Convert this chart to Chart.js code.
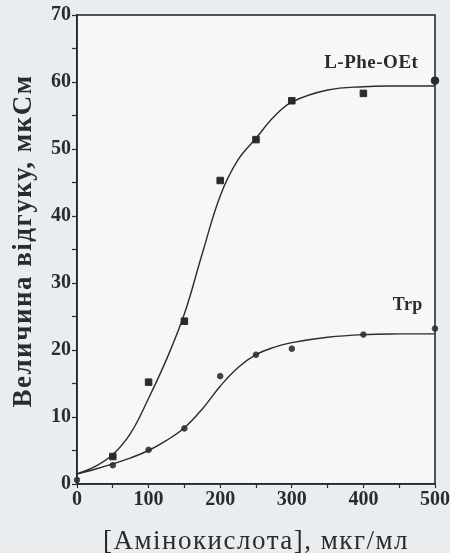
<!DOCTYPE html>
<html lang="uk">
<head>
  <meta charset="UTF-8">
  <title>Величина відгуку</title>
  <script src="https://cdn.jsdelivr.net/npm/chart.js"></script>
  <style>
    html, body { margin: 0; padding: 0; background: #e9edf0; }
    #wrap { width: 450px; height: 553px; }
  </style>
</head>
<body>
  <div id="wrap"><canvas id="chart" width="450" height="553"></canvas></div>

  <script>
    // fitted curves
    const curveX = [0, 25, 50, 75, 100, 125, 150, 175, 200, 225, 250, 275, 300, 350, 400, 450, 500];
    const pheCurve = [1.5, 2.6, 4.4, 7.6, 12.8, 18.6, 25.4, 34.4, 43.0, 48.4, 51.6, 54.8, 57.0, 58.8, 59.3, 59.4, 59.4];
    const trpCurve = [1.5, 2.2, 3.0, 3.9, 5.0, 6.5, 8.4, 11.2, 14.6, 17.4, 19.3, 20.4, 21.1, 21.9, 22.3, 22.4, 22.4];

    // measured points
    const pheX = [50, 100, 150, 200, 250, 300, 400, 500];
    const pheY = [4.1, 15.2, 24.3, 45.3, 51.4, 57.2, 58.3, 60.2];
    const trpX = [0, 50, 100, 150, 200, 250, 300, 400, 500];
    const trpY = [0.6, 2.8, 5.1, 8.3, 16.1, 19.3, 20.2, 22.3, 23.2];

    const xTicks = [0, 100, 200, 300, 400, 500];
    const yTicks = [0, 10, 20, 30, 40, 50, 60, 70];

    const ink = '#2b2b2b';
    const serif = '"Liberation Serif", "DejaVu Serif", serif';

    const toXY = (xs, ys) => xs.map((x, i) => ({ x: x, y: ys[i] }));

    const paperBg = {
      id: 'paperBg',
      beforeDraw(chart) {
        const { ctx, chartArea: a } = chart;
        ctx.save();
        ctx.fillStyle = '#f5f7f8';
        ctx.fillRect(a.left, a.top, a.right - a.left, a.bottom - a.top);
        ctx.restore();
      },
      afterDatasetsDraw(chart) {
        const { ctx, chartArea: a, scales } = chart;
        ctx.save();
        ctx.strokeStyle = ink;
        ctx.lineWidth = 1.6;
        ctx.strokeRect(a.left, a.top, a.right - a.left, a.bottom - a.top);
        ctx.fillStyle = ink;
        ctx.textAlign = 'center';
        ctx.textBaseline = 'middle';
        ctx.font = 'bold 19px ' + serif;
        ctx.letterSpacing = '0.5px';
        ctx.fillText('L-Phe-OEt', scales.x.getPixelForValue(411), scales.y.getPixelForValue(62.8));
        ctx.font = 'bold 18px ' + serif;
        ctx.fillText('Trp', scales.x.getPixelForValue(462), scales.y.getPixelForValue(26.6));

        // axis titles
        ctx.letterSpacing = '1.5px';
        ctx.textBaseline = 'alphabetic';
        ctx.font = '27px ' + serif;
        ctx.fillText('[Амінокислота], мкг/мл', 256, 549);
        ctx.translate(31, 241);
        ctx.rotate(-Math.PI / 2);
        ctx.font = 'bold 27px ' + serif;
        ctx.fillText('Величина відгуку, мкСм', 0, 0);
        ctx.restore();
      }
    };

    new Chart(document.getElementById('chart'), {
      type: 'scatter',
      data: {
        datasets: [
          {
            label: 'L-Phe-OEt fit',
            data: toXY(curveX, pheCurve),
            showLine: true,
            borderColor: ink,
            borderWidth: 1.4,
            pointRadius: 0,
            tension: 0.4
          },
          {
            label: 'Trp fit',
            data: toXY(curveX, trpCurve),
            showLine: true,
            borderColor: ink,
            borderWidth: 1.4,
            pointRadius: 0,
            tension: 0.4
          },
          {
            label: 'L-Phe-OEt',
            data: toXY(pheX, pheY),
            pointStyle: pheX.map((x, i) => i === pheX.length - 1 ? 'circle' : 'rect'),
            pointRadius: pheX.map((x, i) => i === pheX.length - 1 ? 3.8 : 4.6),
            borderWidth: 1,
            backgroundColor: ink,
            borderColor: ink,
            clip: false
          },
          {
            label: 'Trp',
            data: toXY(trpX, trpY),
            pointStyle: 'circle',
            pointRadius: 2.8,
            backgroundColor: '#444',
            borderColor: '#444',
            clip: false
          }
        ]
      },
      options: {
        responsive: false,
        animation: false,
        layout: { padding: { top: 15, right: 7, left: 0, bottom: 0 } },
        plugins: {
          legend: { display: false },
          tooltip: { enabled: false }
        },
        scales: {
          x: {
            type: 'linear',
            min: 0,
            max: 500,
            afterBuildTicks: s => { s.ticks = [0, 50, 100, 150, 200, 250, 300, 350, 400, 450, 500].map(v => ({ value: v })); },
            afterFit: s => { s.height = 69; },
            grid: { drawOnChartArea: false, color: ink, tickLength: 4, tickWidth: 1.2 },
            border: { color: ink, width: 1.6 },
            ticks: {
              color: ink,
              padding: 0,
              maxRotation: 0,
              autoSkip: false,
              font: { family: serif, size: 20, weight: 'bold' },
              callback: v => xTicks.includes(v) ? String(v) : ''
            },
            title: { display: false }
          },
          y: {
            min: 0,
            max: 70,
            afterBuildTicks: s => { s.ticks = [0, 5, 10, 15, 20, 25, 30, 35, 40, 45, 50, 55, 60, 65, 70].map(v => ({ value: v })); },
            afterFit: s => { s.width = 77; },
            grid: { drawOnChartArea: false, color: ink, tickLength: 5, tickWidth: 1.2 },
            border: { color: ink, width: 1.6 },
            ticks: {
              color: ink,
              padding: 1,
              autoSkip: false,
              font: { family: serif, size: 20, weight: 'bold' },
              callback: v => yTicks.includes(v) ? String(v) : ''
            },
            title: { display: false }
          }
        }
      },
      plugins: [paperBg]
    });
  </script>
</body>
</html>
